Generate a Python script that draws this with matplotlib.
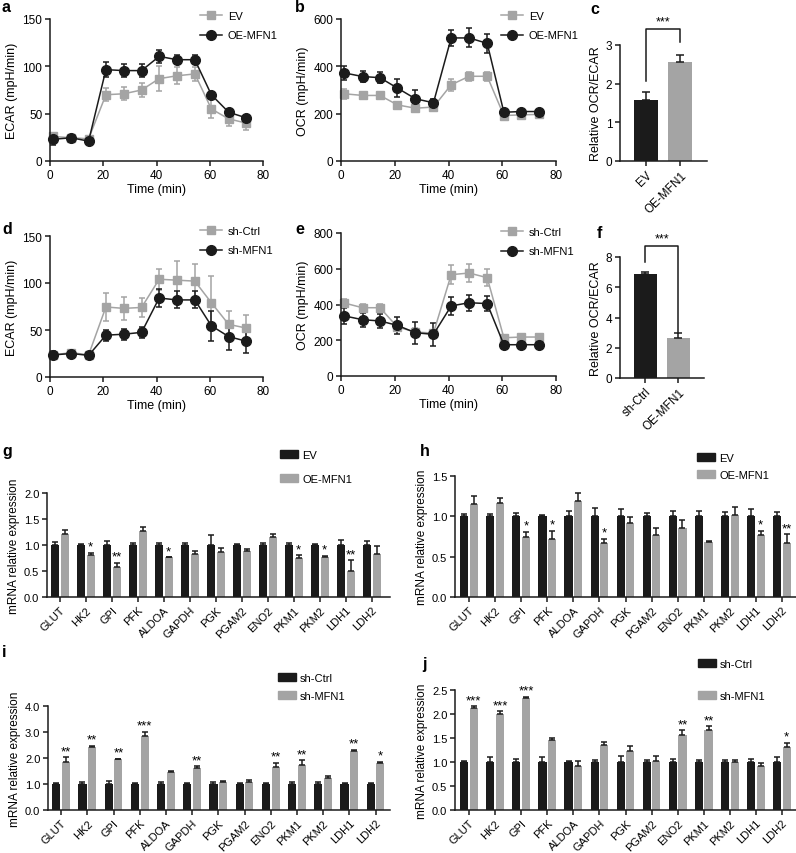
import matplotlib
matplotlib.use('Agg')
import matplotlib.pyplot as plt
import numpy as np
from matplotlib.lines import Line2D
from matplotlib.patches import Patch

plt.rcParams['font.family'] = ['Liberation Sans', 'DejaVu Sans']
plt.rcParams['font.size'] = 8.5

# ---------------- data ----------------
time = [1.3, 8, 14.5, 21, 27.7, 34.4, 41, 47.7, 54.4, 60.6, 67.1, 73.8]

# a: ECAR, EV vs OE-MFN1
ecar_ev = [26, 24.5, 23.5, 70, 71, 75, 87, 90, 92, 55, 44.5, 40]
ecar_ev_err = [4, 3, 3, 7, 7, 7, 13, 9, 7, 10, 7, 7]
ecar_oe = [23, 24.5, 21, 96.5, 95.5, 95.5, 110.5, 107, 107, 70, 51.5, 45.5]
ecar_oe_err = [6, 3, 2, 8, 7, 7, 7, 5, 5, 3, 3, 3]

# b: OCR, EV vs OE-MFN1
ocr_ev = [284, 277, 277, 237, 223, 228, 322, 358, 358, 192, 195, 197]
ocr_ev_err = [20, 15, 15, 12, 15, 10, 25, 20, 20, 10, 8, 8]
ocr_oe = [372, 357, 352, 308, 263, 246, 520, 520, 497, 206, 209, 209]
ocr_oe_err = [30, 25, 22, 38, 35, 15, 32, 40, 40, 10, 8, 8]

# c: ratio
ratio_c_labels = ['EV', 'OE-MFN1']
ratio_c = [1.57, 2.57]
ratio_c_err = [0.22, 0.18]

# d: ECAR, sh-Ctrl vs sh-MFN1
ecar_ctrl = [23.5, 26, 23.5, 74.5, 73, 74, 104, 103, 102, 79, 56, 52]
ecar_ctrl_err = [3, 3, 3, 15, 12, 10, 11, 20, 18, 28, 14, 14]
ecar_sh = [23.5, 25, 23, 44.5, 45.5, 47.5, 84, 82, 82, 54.5, 43, 38]
ecar_sh_err = [4, 4, 4, 6, 6, 6, 10, 9, 9, 16, 14, 12]

# e: OCR, sh-Ctrl vs sh-MFN1
ocr_ctrl = [408, 382, 382, 274, 246, 240, 567, 576, 550, 214, 218, 218]
ocr_ctrl_err = [20, 20, 20, 20, 20, 20, 55, 52, 48, 10, 10, 10]
ocr_sh = [336, 315, 308, 283, 242, 233, 392, 410, 405, 175, 175, 175]
ocr_sh_err = [45, 40, 40, 47, 62, 65, 48, 45, 43, 10, 10, 10]

# f: ratio
ratio_f_labels = ['sh-Ctrl', 'OE-MFN1']
ratio_f = [6.85, 2.65]
ratio_f_err = [0.15, 0.3]

genes = ['GLUT', 'HK2', 'GPI', 'PFK', 'ALDOA', 'GAPDH', 'PGK', 'PGAM2',
         'ENO2', 'PKM1', 'PKM2', 'LDH1', 'LDH2']

# g
g_ctrl = [1.0] * 13
g_ctrl_err = [0.06, 0.02, 0.08, 0.03, 0.04, 0.03, 0.2, 0.02, 0.04, 0.04, 0.02, 0.1, 0.08]
g_trt = [1.21, 0.80, 0.57, 1.27, 0.76, 0.82, 0.87, 0.88, 1.15, 0.75, 0.76, 0.50, 0.83]
g_trt_err = [0.08, 0.05, 0.09, 0.08, 0.01, 0.06, 0.07, 0.04, 0.06, 0.05, 0.03, 0.21, 0.15]
g_stars = ['', '*', '**', '', '*', '', '', '', '', '*', '*', '**', '']

# h
h_ctrl = [1.0] * 13
h_ctrl_err = [0.03, 0.03, 0.04, 0.02, 0.07, 0.1, 0.09, 0.04, 0.06, 0.06, 0.05, 0.09, 0.05]
h_trt = [1.15, 1.16, 0.75, 0.72, 1.19, 0.67, 0.92, 0.77, 0.86, 0.68, 1.02, 0.77, 0.67]
h_trt_err = [0.1, 0.07, 0.06, 0.1, 0.1, 0.05, 0.07, 0.08, 0.1, 0.01, 0.09, 0.05, 0.11]
h_stars = ['', '', '*', '*', '', '*', '', '', '', '', '', '*', '**']

# i
i_ctrl = [1.0] * 13
i_ctrl_err = [0.03, 0.06, 0.13, 0.02, 0.06, 0.03, 0.07, 0.02, 0.05, 0.08, 0.06, 0.03, 0.03]
i_trt = [1.86, 2.42, 1.96, 2.85, 1.47, 1.60, 1.07, 1.08, 1.67, 1.74, 1.25, 2.26, 1.82]
i_trt_err = [0.18, 0.05, 0.02, 0.16, 0.02, 0.08, 0.04, 0.08, 0.15, 0.18, 0.04, 0.06, 0.03]
i_stars = ['**', '**', '**', '***', '', '**', '', '', '**', '**', '', '**', '*']

# j
j_ctrl = [1.0] * 13
j_ctrl_err = [0.02, 0.1, 0.07, 0.11, 0.03, 0.05, 0.12, 0.05, 0.06, 0.05, 0.04, 0.06, 0.1]
j_trt = [2.12, 1.99, 2.34, 1.45, 0.91, 1.35, 1.23, 1.03, 1.56, 1.67, 1.01, 0.91, 1.31]
j_trt_err = [0.04, 0.07, 0.02, 0.04, 0.11, 0.06, 0.11, 0.1, 0.1, 0.08, 0.04, 0.06, 0.09]
j_stars = ['***', '***', '***', '', '', '', '', '', '**', '**', '', '', '*']

# ---------------- style ----------------
BLACK = '#1b1b1b'
GRAY = '#a4a4a4'
W, H = 796, 854
fig = plt.figure(figsize=(W / 100, H / 100), dpi=100)


def add_ax(l, t, r, b):
    return fig.add_axes([l / W, 1 - b / H, (r - l) / W, (b - t) / H])


def style(ax, ts):
    for s in ['top', 'right']:
        ax.spines[s].set_visible(False)
    for s in ['left', 'bottom']:
        ax.spines[s].set_linewidth(1.1)
        ax.spines[s].set_color(BLACK)
    ax.tick_params(width=1.1, length=3.5, labelsize=ts, pad=2, color=BLACK)


def letter(x, y, s):
    fig.text(x / W, 1 - y / H, s, fontsize=11.5, fontweight='bold',
             va='center', ha='left')


def line_panel(box, y1, e1, y2, e2, lab1, lab2, ylim, yticks, ylabel, leg):
    ax = add_ax(*box)
    style(ax, 8.5)
    ax.errorbar(time, y1, yerr=e1, color=GRAY, marker='s', ms=6, lw=1.1,
                capsize=2.5, elinewidth=1.1, capthick=1.1, clip_on=False)
    ax.errorbar(time, y2, yerr=e2, color=BLACK, marker='o', ms=7, lw=1.1,
                capsize=2.5, elinewidth=1.1, capthick=1.1, clip_on=False)
    ax.set_xlim(0, 80)
    ax.set_xticks([0, 20, 40, 60, 80])
    ax.set_ylim(*ylim)
    ax.set_yticks(yticks)
    ax.set_xlabel('Time (min)', labelpad=2, fontsize=9)
    ax.set_ylabel(ylabel, labelpad=3, fontsize=9)
    handles = [Line2D([0], [0], color=GRAY, marker='s', ms=6, lw=1.1),
               Line2D([0], [0], color=BLACK, marker='o', ms=7, lw=1.1)]
    ax.legend(handles, [lab1, lab2], loc='upper left',
              bbox_to_anchor=(leg[0] / W, 1 - leg[1] / H),
              bbox_transform=fig.transFigure, frameon=False, borderpad=0,
              borderaxespad=0, handlelength=2.0, handletextpad=0.5,
              labelspacing=0.85, fontsize=8)
    return ax


def ratio_panel(box, labels, vals, errs, ylim, yticks, br):
    ax = add_ax(*box)
    style(ax, 8.5)
    x = np.arange(len(vals))
    ax.bar(x, vals, 0.7, color=[BLACK, GRAY],
           yerr=[np.zeros(len(vals)), errs],
           error_kw=dict(ecolor=BLACK, elinewidth=1.1, capsize=3, capthick=1.1))
    ax.set_xlim(-0.76, 1.78)
    ax.set_ylim(*ylim)
    ax.set_yticks(yticks)
    ax.set_xticks(x)
    ax.set_xticklabels(labels, rotation=45, ha='right', rotation_mode='anchor')
    ax.set_ylabel('Relative OCR/ECAR', labelpad=3, fontsize=9)
    lb, rb, top, st = br
    ax.plot([0, 0, 1, 1], [lb, top, top, rb], color=BLACK, lw=1.1, clip_on=False)
    ax.text(0.5, st, '***', ha='center', va='center', fontsize=9)
    return ax


def bar_panel(box, c, ce, t, te, stars, lab1, lab2, ylim, yticks, fmt, xlim,
              leg, spacing):
    ax = add_ax(*box)
    style(ax, 8)
    x = np.arange(len(genes))
    w = 0.31
    off = 0.185
    ek = dict(ecolor=BLACK, elinewidth=1.1, capsize=2, capthick=1.1)
    ax.bar(x - off, c, w, color=BLACK, yerr=[np.zeros(len(c)), ce],
           error_kw=ek, label=lab1)
    ax.bar(x + off, t, w, color=GRAY, yerr=[np.zeros(len(t)), te],
           error_kw=ek, label=lab2)
    for xi, v, e, s in zip(x, t, te, stars):
        if s:
            ax.annotate(s, (xi + off, v + e), xytext=(0, 0),
                        textcoords='offset points', ha='center', va='bottom',
                        fontsize=9.5)
    ax.set_xlim(*xlim)
    ax.set_ylim(*ylim)
    ax.set_yticks(yticks)
    ax.set_yticklabels([fmt % v for v in yticks])
    ax.set_xticks(x)
    ax.set_xticklabels(genes, rotation=45, ha='right', rotation_mode='anchor')
    ax.set_ylabel('mRNA relative expression', labelpad=3, fontsize=8.5)
    handles = [Patch(color=BLACK), Patch(color=GRAY)]
    ax.legend(handles, [lab1, lab2], loc='upper left',
              bbox_to_anchor=(leg[0] / W, 1 - leg[1] / H),
              bbox_transform=fig.transFigure, frameon=False, borderpad=0,
              borderaxespad=0, handlelength=1.6, handleheight=0.75,
              handletextpad=0.4, labelspacing=spacing, fontsize=8)
    return ax


# ---------------- panels ----------------
line_panel((50, 20, 263, 162), ecar_ev, ecar_ev_err, ecar_oe, ecar_oe_err,
           'EV', 'OE-MFN1', (0, 150), [0, 50, 100, 150], 'ECAR (mpH/min)',
           (200, 12))
line_panel((341, 20, 556, 162), ocr_ev, ocr_ev_err, ocr_oe, ocr_oe_err,
           'EV', 'OE-MFN1', (0, 600), [0, 200, 400, 600], 'OCR (mpH/min)',
           (501, 12))
ratio_panel((620, 46, 707, 162), ratio_c_labels, ratio_c, ratio_c_err,
            (0, 3), [0, 1, 2, 3], (2.07, 3.07, 3.41, 3.62))

line_panel((50, 237, 263, 378), ecar_ctrl, ecar_ctrl_err, ecar_sh, ecar_sh_err,
           'sh-Ctrl', 'sh-MFN1', (0, 150), [0, 50, 100, 150], 'ECAR (mpH/min)',
           (200, 227))
line_panel((341, 234, 556, 377), ocr_ctrl, ocr_ctrl_err, ocr_sh, ocr_sh_err,
           'sh-Ctrl', 'sh-MFN1', (0, 800), [0, 200, 400, 600, 800],
           'OCR (mpH/min)', (501, 228))
ratio_panel((620, 258, 704, 379), ratio_f_labels, ratio_f, ratio_f_err,
            (0, 8), [0, 2, 4, 6, 8], (7.7, 3.0, 8.75, 9.2))

bar_panel((47, 494, 390, 598), g_ctrl, g_ctrl_err, g_trt, g_trt_err, g_stars,
          'EV', 'OE-MFN1', (0, 2.0), [0, 0.5, 1.0, 1.5, 2.0], '%.1f',
          (-0.5, 12.7), (280, 451), 1.25)
bar_panel((455, 477, 796, 598), h_ctrl, h_ctrl_err, h_trt, h_trt_err, h_stars,
          'EV', 'OE-MFN1', (0, 1.5), [0, 0.5, 1.0, 1.5], '%.1f',
          (-0.54, 12.54), (697, 454), 0.6)
bar_panel((48, 707, 390, 811), i_ctrl, i_ctrl_err, i_trt, i_trt_err, i_stars,
          'sh-Ctrl', 'sh-MFN1', (0, 4.0), [0, 1, 2, 3, 4], '%.1f',
          (-0.5, 12.55), (278, 674), 0.7)
bar_panel((455, 691, 796, 811), j_ctrl, j_ctrl_err, j_trt, j_trt_err, j_stars,
          'sh-Ctrl', 'sh-MFN1', (0, 2.5), [0, 0.5, 1.0, 1.5, 2.0, 2.5], '%.1f',
          (-0.54, 12.54), (698, 660), 2.0)

letter(2, 8, 'a')
letter(295, 8, 'b')
letter(590, 10, 'c')
letter(2, 230, 'd')
letter(295, 230, 'e')
letter(597, 233, 'f')
letter(2, 452, 'g')
letter(420, 452, 'h')
letter(2, 653, 'i')
letter(422, 665, 'j')

fig.savefig('out.png', dpi=100)
